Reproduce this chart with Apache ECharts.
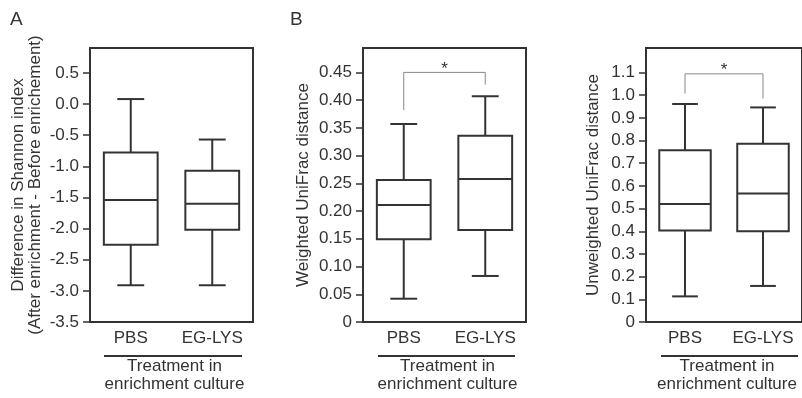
<!DOCTYPE html>
<html>
<head>
<meta charset="utf-8">
<script src="https://cdn.jsdelivr.net/npm/echarts@6/dist/echarts.min.js"></script>
<style>
  html, body { margin: 0; padding: 0; background: #fff; }
  #chart { width: 802px; height: 398px; }
</style>
</head>
<body>
<div id="chart"></div>
<script>
const categories = ['PBS', 'EG-LYS']
// each box: [low whisker, Q1, median, Q3, high whisker]
const shannonDiff = [[-2.91, -2.26, -1.54, -0.78, 0.08], [-2.91, -2.02, -1.6, -1.07, -0.57]]
const weightedUniFrac = [[0.042, 0.149, 0.211, 0.256, 0.357], [0.083, 0.166, 0.258, 0.336, 0.407]]
const unweightedUniFrac = [[0.113, 0.403, 0.52, 0.757, 0.961], [0.159, 0.4, 0.566, 0.786, 0.946]]
// significance bracket: [top, left end, right end]
const bracketWeighted = [0.45, 0.382, 0.428]
const bracketUnweighted = [1.094, 1.007, 0.985]
const ticksA = [-3.5, -3.0, -2.5, -2.0, -1.5, -1.0, -0.5, 0.0, 0.5]
const ticksB = [0, 0.05, 0.1, 0.15, 0.2, 0.25, 0.3, 0.35, 0.4, 0.45]
const ticksC = [0, 0.1, 0.2, 0.3, 0.4, 0.5, 0.6, 0.7, 0.8, 0.9, 1.0, 1.1]

const ink = '#333'
const font = 'Liberation Sans, Arial, sans-serif'

const chart = echarts.init(document.getElementById('chart'))

function renderBox(params, api) {
  const x = api.value(0)
  const pLow = api.coord([x, api.value(1)])
  const pQ1 = api.coord([x, api.value(2)])
  const pMed = api.coord([x, api.value(3)])
  const pQ3 = api.coord([x, api.value(4)])
  const pHigh = api.coord([x, api.value(5)])
  const bw = api.size([1, 0])[0] * 0.66
  const cx = pMed[0]
  const half = bw / 2
  const cap = bw / 4
  const style = { stroke: ink, lineWidth: 2, fill: null }
  return {
    type: 'group',
    children: [
      { type: 'rect', shape: { x: cx - half, y: pQ3[1], width: bw, height: pQ1[1] - pQ3[1] }, style: { stroke: ink, lineWidth: 2, fill: '#fff' } },
      { type: 'line', shape: { x1: cx - half, y1: pMed[1], x2: cx + half, y2: pMed[1] }, style },
      { type: 'line', shape: { x1: cx, y1: pQ3[1], x2: cx, y2: pHigh[1] }, style },
      { type: 'line', shape: { x1: cx, y1: pQ1[1], x2: cx, y2: pLow[1] }, style },
      { type: 'line', shape: { x1: cx - cap, y1: pHigh[1], x2: cx + cap, y2: pHigh[1] }, style },
      { type: 'line', shape: { x1: cx - cap, y1: pLow[1], x2: cx + cap, y2: pLow[1] }, style },
    ],
  }
}

function renderBracket(params, api) {
  const pTopL = api.coord([0, api.value(2)])
  const pTopR = api.coord([1, api.value(2)])
  const pL = api.coord([0, api.value(3)])
  const pR = api.coord([1, api.value(4)])
  const style = { stroke: '#888', lineWidth: 1, fill: null }
  return {
    type: 'group',
    children: [
      { type: 'polyline', shape: { points: [pL, pTopL, pTopR, pR] }, style },
      { type: 'text', style: { text: '*', x: (pTopL[0] + pTopR[0]) / 2, y: pTopL[1] + 5, align: 'center', verticalAlign: 'bottom', font: '17px ' + font, fill: ink } },
    ],
  }
}

const boxData = (rows) => rows.map((r, i) => [i, ...r])

const grids = [
  { left: 90, top: 48, width: 163, height: 279 },
  { left: 363, top: 48, width: 163, height: 279 },
  { left: 646, top: 48, width: 163, height: 279 },
].map((g) => ({ ...g, show: true, borderColor: ink, borderWidth: 2, backgroundColor: 'transparent' }))

const yNames = [
  'Difference in Shannon index\n(After enrichment - Before enrichement)',
  'Weighted UniFrac distance',
  'Unweighted UniFrac distance',
]
const yRanges = [[-3.5, 0.9], [0, 0.494], [0, 1.208]]
const yTicks = [ticksA, ticksB, ticksC]
const yFormat = [
  (v) => v.toFixed(1),
  (v) => (v === 0 ? '0' : v.toFixed(2)),
  (v) => (v === 0 ? '0' : v.toFixed(1)),
]
const nameGaps = [46, 51, 44]

const option = {
  animation: false,
  textStyle: { fontFamily: font },
  grid: grids,
  xAxis: grids.map((g, i) => ({
    type: 'category',
    gridIndex: i,
    data: categories,
    axisLine: { show: false },
    axisTick: { show: false },
    axisLabel: { fontSize: 17, color: ink, margin: 8, fontFamily: font, interval: 0, hideOverlap: false },
    name: 'Treatment in\nenrichment culture',
    nameLocation: 'middle',
    nameGap: 35,
    nameTextStyle: { fontSize: 17, color: ink, lineHeight: 18, fontFamily: font, verticalAlign: 'top', padding: [0, 0, 0, 6] },
  })),
  yAxis: grids.map((g, i) => ({
    type: 'value',
    gridIndex: i,
    min: yRanges[i][0],
    max: yRanges[i][1],
    axisLine: { show: false },
    splitLine: { show: false },
    axisTick: { show: true, length: 7, customValues: yTicks[i], lineStyle: { color: ink, width: 1.5 } },
    axisLabel: { fontSize: 17, color: ink, margin: 11, customValues: yTicks[i], formatter: yFormat[i], fontFamily: font },
    name: yNames[i],
    nameLocation: 'middle',
    nameRotate: 90,
    nameGap: nameGaps[i],
    nameTextStyle: { fontSize: 17, color: ink, lineHeight: 17, fontFamily: font },
  })),
  series: [
    { type: 'custom', xAxisIndex: 0, yAxisIndex: 0, renderItem: renderBox, data: boxData(shannonDiff), encode: { x: 0, y: [1, 2, 3, 4, 5] } },
    { type: 'custom', xAxisIndex: 1, yAxisIndex: 1, renderItem: renderBox, data: boxData(weightedUniFrac), encode: { x: 0, y: [1, 2, 3, 4, 5] } },
    { type: 'custom', xAxisIndex: 2, yAxisIndex: 2, renderItem: renderBox, data: boxData(unweightedUniFrac), encode: { x: 0, y: [1, 2, 3, 4, 5] } },
    { type: 'custom', xAxisIndex: 1, yAxisIndex: 1, renderItem: renderBracket, data: [[0, 1, ...bracketWeighted]], encode: { x: [0, 1], y: [2, 3, 4] } },
    { type: 'custom', xAxisIndex: 2, yAxisIndex: 2, renderItem: renderBracket, data: [[0, 1, ...bracketUnweighted]], encode: { x: [0, 1], y: [2, 3, 4] } },
  ],
  graphic: [
    { type: 'text', left: 10, top: 10, style: { text: 'A', font: '19px ' + font, fill: ink } },
    { type: 'text', left: 290, top: 10, style: { text: 'B', font: '19px ' + font, fill: ink } },
    { type: 'line', shape: { x1: 104, y1: 356, x2: 242, y2: 356 }, style: { stroke: ink, lineWidth: 2 } },
    { type: 'line', shape: { x1: 378, y1: 356, x2: 515, y2: 356 }, style: { stroke: ink, lineWidth: 2 } },
    { type: 'line', shape: { x1: 661, y1: 356, x2: 798, y2: 356 }, style: { stroke: ink, lineWidth: 2 } },
  ],
}

chart.setOption(option)
window.addEventListener('resize', () => chart.resize())
</script>
</body>
</html>
